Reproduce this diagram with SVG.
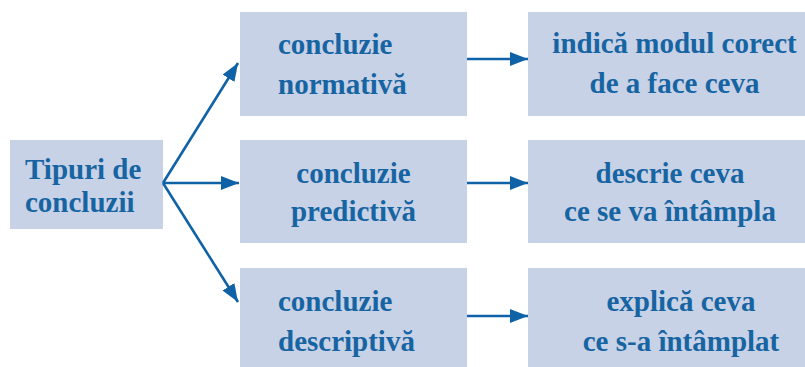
<svg xmlns="http://www.w3.org/2000/svg" width="805" height="367" viewBox="0 0 805 367">
<style>
.box{fill:#c7d2e6;}
.t{font-family:'Liberation Serif','Times New Roman',serif;font-weight:700;font-size:29px;fill:#1764a3;}
.c{text-anchor:middle;}
.ln{stroke:#0f62a6;stroke-width:2.6;fill:none;marker-end:url(#ah);}
</style>
<defs>
<marker id="ah" markerUnits="userSpaceOnUse" markerWidth="20" markerHeight="14" refX="18" refY="7" orient="auto">
<path d="M0,0 L18,7 L0,14 Z" fill="#0f62a6"/>
</marker>
</defs>
<rect width="805" height="367" fill="#ffffff"/>
<g id="n-tipuri">
<rect class="box" x="10" y="140" width="153" height="89"/>
<text class="t" x="25" y="179">Tipuri de</text>
<text class="t" x="25" y="212">concluzii</text>
</g>
<g id="n-normativa">
<rect class="box" x="240" y="12" width="227" height="104"/>
<text class="t" x="278" y="54">concluzie</text>
<text class="t" x="278" y="94">normativă</text>
</g>
<g id="n-predictiva">
<rect class="box" x="240" y="140" width="227" height="103"/>
<text class="t c" x="353.5" y="183">concluzie</text>
<text class="t c" x="353.5" y="221">predictivă</text>
</g>
<g id="n-descriptiva">
<rect class="box" x="240" y="268" width="227" height="99"/>
<text class="t" x="278" y="311">concluzie</text>
<text class="t" x="278" y="351">descriptivă</text>
</g>
<g id="n-indica">
<rect class="box" x="528" y="12" width="277" height="104"/>
<text class="t c" x="674.5" y="53">indică modul corect</text>
<text class="t c" x="674.5" y="93">de a face ceva</text>
</g>
<g id="n-descrie">
<rect class="box" x="528" y="140" width="277" height="103"/>
<text class="t c" x="670" y="183">descrie ceva</text>
<text class="t c" x="670" y="221">ce se va întâmpla</text>
</g>
<g id="n-explica">
<rect class="box" x="528" y="268" width="277" height="99"/>
<text class="t c" x="681" y="311">explică ceva</text>
<text class="t c" x="681" y="351">ce s-a întâmplat</text>
</g>
<g id="connectors">
<line class="ln" x1="163" y1="183" x2="238" y2="63"/>
<line class="ln" x1="163" y1="183" x2="239" y2="183"/>
<line class="ln" x1="163" y1="183" x2="238" y2="302"/>
<line class="ln" x1="467" y1="59" x2="528" y2="59"/>
<line class="ln" x1="467" y1="183" x2="528" y2="183"/>
<line class="ln" x1="467" y1="316" x2="528" y2="316"/>
</g>
</svg>
